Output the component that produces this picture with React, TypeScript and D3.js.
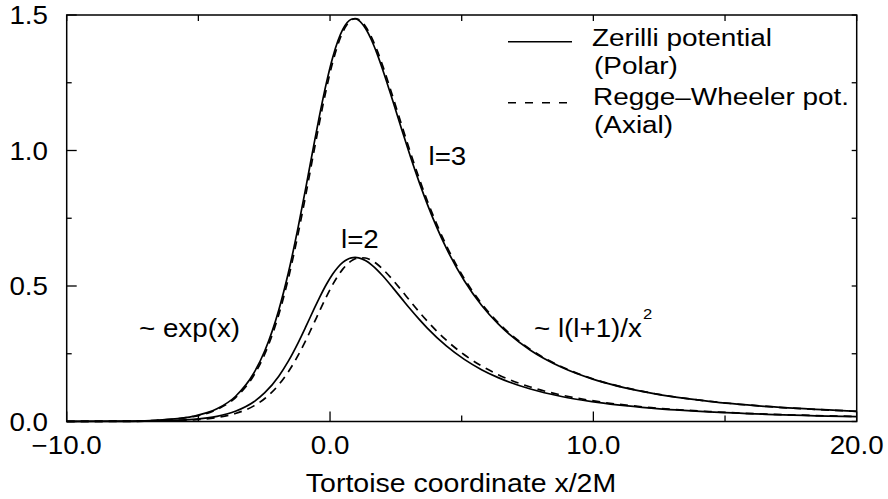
import React from "react";
import * as d3 from "d3";

// Tortoise coordinate x/2M (sample positions)
const xs = [-10, -7.517, -6.601, -5.907, -5.213, -4.293, -3.595, -2.892, -2.477, -1.946, -1.589, -1.203, -0.91, -0.602, -0.409, -0.136, 0.096, 0.3, 0.484, 0.652, 0.807, 0.952, 1.089, 1.343, 1.577, 1.795, 2.0, 2.382, 2.737, 3.07, 3.388, 3.693, 4.416, 5.099, 5.753, 6.386, 7.609, 8.792, 9.946, 12.197, 14.398, 16.565, 20.0];
// Regge–Wheeler l=2
const rw2 = [0.00005, 0.0006, 0.0015, 0.003, 0.006, 0.0149, 0.0294, 0.0577, 0.0848, 0.1358, 0.1826, 0.2459, 0.3014, 0.3647, 0.4051, 0.4608, 0.5042, 0.5374, 0.5623, 0.5803, 0.5926, 0.6003, 0.6043, 0.6034, 0.5944, 0.5801, 0.5625, 0.5226, 0.4811, 0.4412, 0.4041, 0.3704, 0.2999, 0.2461, 0.2049, 0.1728, 0.1273, 0.0975, 0.0769, 0.0513, 0.0366, 0.0274, 0.0185];
// Zerilli l=2
const z2 = [0.00006, 0.00077, 0.0019, 0.0038, 0.0077, 0.019, 0.0376, 0.0728, 0.1062, 0.1673, 0.2218, 0.2924, 0.3518, 0.4162, 0.4553, 0.5064, 0.5434, 0.5694, 0.5869, 0.5979, 0.6036, 0.6053, 0.6038, 0.5939, 0.5781, 0.5588, 0.5377, 0.494, 0.4516, 0.4123, 0.3767, 0.3447, 0.279, 0.2293, 0.1914, 0.162, 0.1201, 0.0924, 0.0733, 0.0493, 0.0353, 0.0266, 0.0181];
// Regge–Wheeler l=3
const rw3 = [0.00015, 0.0018, 0.0045, 0.009, 0.0179, 0.0444, 0.0876, 0.1707, 0.2495, 0.3949, 0.5255, 0.6967, 0.842, 1.0016, 1.0995, 1.2288, 1.3235, 1.391, 1.4369, 1.4659, 1.4815, 1.4865, 1.4832, 1.4583, 1.4175, 1.3674, 1.3125, 1.1987, 1.0887, 0.9874, 0.8961, 0.8148, 0.6497, 0.5273, 0.4353, 0.3648, 0.2662, 0.2024, 0.1589, 0.1053, 0.0748, 0.0558, 0.0376];
// Zerilli l=3
const z3 = [0.00016, 0.0019, 0.0047, 0.0094, 0.0189, 0.0467, 0.0922, 0.1788, 0.2609, 0.4116, 0.546, 0.7207, 0.8676, 1.0273, 1.1242, 1.2505, 1.3415, 1.4049, 1.4469, 1.4721, 1.4842, 1.4861, 1.4801, 1.4509, 1.4069, 1.3546, 1.2983, 1.1833, 1.0733, 0.9726, 0.8824, 0.8022, 0.6397, 0.5195, 0.4291, 0.3599, 0.263, 0.2002, 0.1574, 0.1044, 0.0743, 0.0555, 0.0374];

const xMajor = [-10, 0, 10, 20];
const xMinor = [-5, 5, 15];
const xTickLabels = ["\u221210.0", "0.0", "10.0", "20.0"];
const yMajor = [0, 0.5, 1.0, 1.5];
const yMinor = [0.25, 0.75, 1.25];
const yTickLabels = ["0.0", "0.5", "1.0", "1.5"];

const FONT = "'Liberation Sans', Arial, Helvetica, sans-serif";

function T(props: { x: number; y: number; anchor?: string; size?: number; sx?: number; children: React.ReactNode }) {
  const { x, y, anchor = "start", size = 25, sx = 1.11, children } = props;
  return (
    <text
      transform={`translate(${x},${y}) scale(${sx},1)`}
      textAnchor={anchor}
      fontSize={size}
      fontFamily={FONT}
      fill="#000"
    >
      {children}
    </text>
  );
}

export default function App() {
  const W = 888, H = 499;
  const x = d3.scaleLinear().domain([-10, 20]).range([66.7, 856.7]);
  const y = d3.scaleLinear().domain([0, 1.5]).range([421.5, 15]);
  const line = (vals: number[]) =>
    d3.line<number>()
      .x((_, i) => x(xs[i]))
      .y((v) => y(v))
      .curve(d3.curveMonotoneX)(vals) || "";

  const [x0, x1] = x.range();
  const [yb, yt] = y.range();

  return (
    <svg width={W} height={H} style={{ position: "absolute", left: 0, top: 0, background: "#fff" }}>
      <rect x={0} y={0} width={W} height={H} fill="#fff" />
      {/* curves */}
      <g fill="none" stroke="#000" strokeWidth={1.7}>
        <path d={line(z2)} />
        <path d={line(z3)} />
        <path d={line(rw2)} strokeDasharray="8,6" />
        <path d={line(rw3)} strokeDasharray="8,6" />
      </g>
      {/* frame */}
      <rect x={x0} y={yt} width={x1 - x0} height={yb - yt} fill="none" stroke="#000" strokeWidth={1.5} />
      {/* ticks */}
      <g stroke="#000" strokeWidth={1.3}>
        {xMajor.map((v) => (
          <g key={"xm" + v}>
            <line x1={x(v)} x2={x(v)} y1={yb} y2={yb - 10} />
            <line x1={x(v)} x2={x(v)} y1={yt} y2={yt + 6} />
          </g>
        ))}
        {xMinor.map((v) => (
          <g key={"xn" + v}>
            <line x1={x(v)} x2={x(v)} y1={yb} y2={yb - 6} />
            <line x1={x(v)} x2={x(v)} y1={yt} y2={yt + 6} />
          </g>
        ))}
        {yMajor.map((v) => (
          <g key={"ym" + v}>
            <line x1={x0} x2={x0 + 10} y1={y(v)} y2={y(v)} />
            <line x1={x1} x2={x1 - 5} y1={y(v)} y2={y(v)} />
          </g>
        ))}
        {yMinor.map((v) => (
          <g key={"yn" + v}>
            <line x1={x0} x2={x0 + 5} y1={y(v)} y2={y(v)} />
            <line x1={x1} x2={x1 - 5} y1={y(v)} y2={y(v)} />
          </g>
        ))}
      </g>
      {/* tick labels */}
      {yMajor.map((v, i) => (
        <T key={"yl" + v} x={48} y={y(v) + 9} anchor="end">{yTickLabels[i]}</T>
      ))}
      {xMajor.map((v, i) => (
        <T key={"xl" + v} x={x(v)} y={454} anchor="middle">{xTickLabels[i]}</T>
      ))}
      <T x={461} y={491.5} anchor="middle" sx={1.14}>Tortoise coordinate x/2M</T>
      {/* legend */}
      <line x1={508} x2={572} y1={41.7} y2={41.7} stroke="#000" strokeWidth={1.6} />
      <T x={592} y={45.5} size={24.5} sx={1.14}>Zerilli potential</T>
      <T x={594} y={73.5} size={24.5} sx={1.14}>(Polar)</T>
      <line x1={508} x2={570} y1={102.7} y2={102.7} stroke="#000" strokeWidth={1.6} strokeDasharray="8,9" />
      <T x={593} y={105} size={24.5} sx={1.14}>Regge–Wheeler pot.</T>
      <T x={594} y={133} size={24.5} sx={1.14}>(Axial)</T>
      {/* annotations */}
      <T x={428.5} y={165}>l=3</T>
      <T x={341} y={248.3}>l=2</T>
      <T x={139} y={336.5}>~ exp(x)</T>
      <T x={534} y={336.5}>~ l(l+1)/x</T>
      <T x={643} y={318.5} size={15}>2</T>
    </svg>
  );
}
